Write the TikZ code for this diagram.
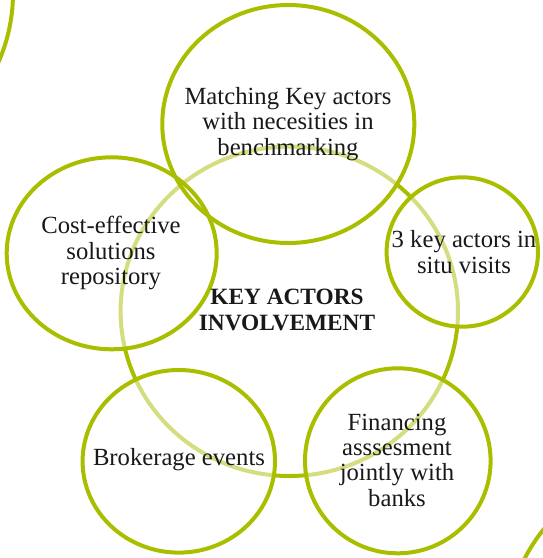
\documentclass[tikz,border=0pt]{standalone}
\usepackage{fontspec}
\setmainfont{Liberation Serif}
\definecolor{actgreen}{RGB}{170,190,0}
\tikzset{every picture/.style={line width=0.75pt}}
\tikzset{
  ring/.style={draw=actgreen, line width=3pt},
  ringveil/.style={fill=white, fill opacity=0.5},
  ringtext/.style={inner sep=0.75pt, align=center, text=black!90, font=\fontsize{18.5}{19}\selectfont},
  hubtext/.style={inner sep=0.75pt, align=center, text=black!90, font=\bfseries\fontsize{17.5}{20}\selectfont}
}

\begin{document}
\begin{tikzpicture}[x=0.75pt,y=0.75pt,yscale=-1,xscale=1]
    \useasboundingbox (0,0) rectangle (543,558);
    \clip (0,0) rectangle (543,558);

    %Shape: Ellipse [hub]
    \draw [ring] (289.3,311.3) ellipse (168.7 and 164.7);

    %Shape: Circle [corner arcs]
    \draw [ring] (-158,-7) circle (171);
    \draw [ring] (676,636) circle (170);

    %Shape: Ellipse [veils over the hub]
    \fill [ringveil] (288.3,124) ellipse (126 and 119);
    \fill [ringveil] (111.7,253.3) ellipse (105 and 96);
    \fill [ringveil] (462.3,252) ellipse (75.7 and 74.7);
    \fill [ringveil] (178.8,461.3) ellipse (96.2 and 91.3);
    \fill [ringveil] (397.8,460.8) ellipse (92.8 and 92.5);

    %Shape: Ellipse [top]
    \draw [ring] (288.3,124) ellipse (126 and 119);
    %Shape: Ellipse [left]
    \draw [ring] (111.7,253.3) ellipse (105 and 96);
    %Shape: Ellipse [right]
    \draw [ring] (462.3,252) ellipse (75.7 and 74.7);
    %Shape: Ellipse [bottom left]
    \draw [ring] (178.8,461.3) ellipse (96.2 and 91.3);
    %Shape: Ellipse [bottom right]
    \draw [ring] (397.8,460.8) ellipse (92.8 and 92.5);

    % Text Node
    \draw (288,124) node (matching) [ringtext] {Matching Key actors\\with necesities in\\benchmarking};
    % Text Node
    \draw (111,253) node (costeff) [ringtext] {Cost-effective\\solutions\\repository};
    % Text Node
    \draw (464,252) node (visits) [ringtext] {3 key actors in\\situ visits};
    % Text Node
    \draw (179,460) node (brokerage) [ringtext] {Brokerage events};
    % Text Node
    \draw (397,460) node (financing) [ringtext] {Financing\\asssesment\\jointly with\\banks};
    % Text Node
    \draw (287,310) node (hub) [hubtext] {KEY ACTORS\\INVOLVEMENT};

\end{tikzpicture}
\end{document}
